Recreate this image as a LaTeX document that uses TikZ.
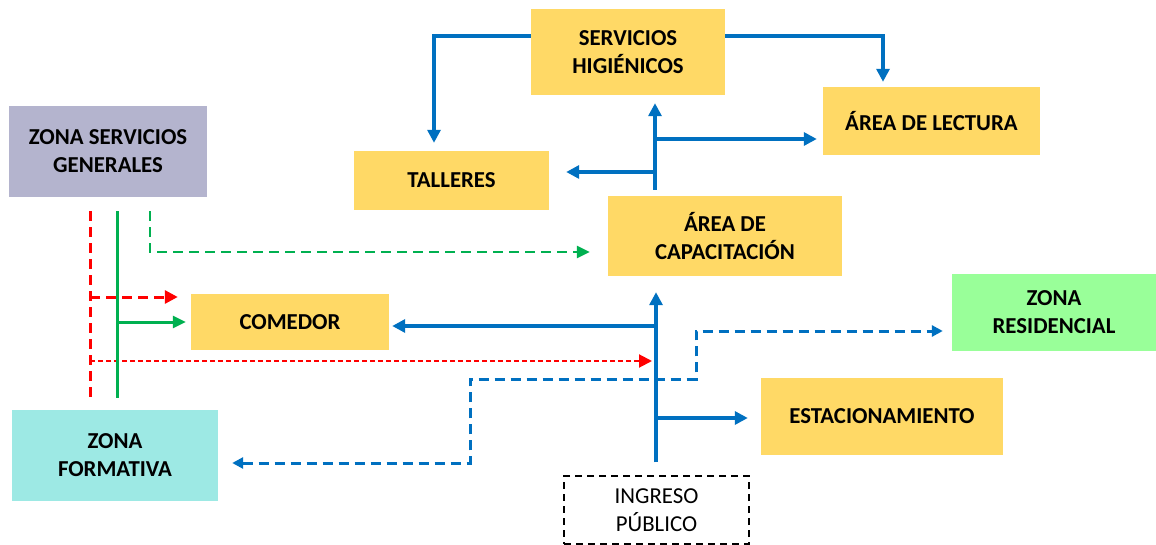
\documentclass[tikz,border=0pt]{standalone}
\usepackage{fontspec}
\setmainfont{Carlito}
\usetikzlibrary{arrows.meta}
\definecolor{cyel}{HTML}{FFD966}
\definecolor{clav}{HTML}{B4B4CE}
\definecolor{ccyan}{HTML}{9DE9E4}
\definecolor{cgrn}{HTML}{99FF99}
\definecolor{cblue}{HTML}{0070C0}
\definecolor{cred}{HTML}{FF0000}
\definecolor{cgreen}{HTML}{00B050}
\begin{document}
\begin{tikzpicture}[x=1pt,y=-1pt,
  box/.style={fill=cyel, inner sep=0pt, align=center, text depth=0pt, font=\bfseries\fontsize{22.8}{28}\selectfont},
  barrow/.style={draw=cblue, line width=3.2pt, -{Triangle[length=13pt,width=13pt]}},
  bdash/.style={draw=cblue, line width=3pt, dash pattern=on 10pt off 6pt, {Triangle[length=11pt,width=11pt]}-{Triangle[length=11pt,width=11pt]}},
  rdash/.style={draw=cred, line width=3pt, dash pattern=on 10pt off 6pt},
  rthin/.style={draw=cred, line width=2pt, dash pattern=on 5pt off 3pt},
  gline/.style={draw=cgreen, line width=3pt},
  gdash/.style={draw=cgreen, line width=2.8pt, dash pattern=on 10pt off 6pt},
  rtip/.style={-{Triangle[length=13pt,width=13pt]}},
  gtip/.style={-{Triangle[length=13pt,width=12pt]}}
]
\useasboundingbox (0,0) rectangle (1156,545);

\node[box, minimum width=194pt, minimum height=86pt] (sh) at (628,52) {SERVICIOS\\HIGIÉNICOS};
\node[box, minimum width=217pt, minimum height=68pt] (lect) at (931.5,121) {ÁREA DE LECTURA};
\node[box, minimum width=195pt, minimum height=59pt] (tall) at (451.5,180.5) {TALLERES};
\node[box, minimum width=234pt, minimum height=80pt] (cap) at (725,236) {ÁREA DE\\CAPACITACIÓN};
\node[box, fill=clav, minimum width=198pt, minimum height=91pt] (zsg) at (108,151.5) {ZONA SERVICIOS\\GENERALES};
\node[box, minimum width=198pt, minimum height=56pt] (com) at (290,322) {COMEDOR};
\node[box, fill=cgrn, minimum width=204pt, minimum height=77pt] (zr) at (1054,312.5) {ZONA\\RESIDENCIAL};
\node[box, minimum width=242pt, minimum height=77pt] (est) at (882,416.5) {ESTACIONAMIENTO};
\node[box, fill=ccyan, minimum width=206pt, minimum height=91pt] (zf) at (115,455.5) {ZONA\\FORMATIVA};
\node[draw, line width=1.5pt, dash pattern=on 7pt off 5pt, inner sep=0pt, align=center, text depth=0pt,
  minimum width=185pt, minimum height=68pt, font=\fontsize{22.8}{28}\selectfont] (ing) at (656.5,510) {INGRESO\\PÚBLICO};

% routing coordinates
\coordinate (shl) at (434,36);
\coordinate (shr) at (883,36);
\coordinate (vt) at (655,0);
\coordinate (j1) at (655,139);
\coordinate (j2) at (655,172);
\coordinate (vb) at (656,0);
\coordinate (j3) at (656,326);
\coordinate (j4) at (656,418);
\coordinate (d0) at (470,463);
\coordinate (d1) at (470,379);
\coordinate (d2) at (696,331);
\coordinate (r0) at (90,0);
\coordinate (r2) at (90,297);
\coordinate (r3) at (90,361);
\coordinate (g0) at (117,0);
\coordinate (g2) at (117,322);
\coordinate (h1) at (150,252);

% blue solid
\draw[barrow, shorten >=8pt] (sh.west |- shl) -| (tall.north -| shl);
\draw[barrow, shorten >=5pt] (sh.east |- shr) -| (lect.north -| shr);
\draw[barrow, shorten <=6pt, shorten >=8pt] (cap.north -| vt) -- (sh.south -| vt);
\draw[barrow, shorten >=6pt] (j1) -- (lect.west |- j1);
\draw[barrow, shorten >=17pt] (j2) -- (tall.east |- j2);
\draw[barrow, shorten <=13pt, shorten >=16pt] (ing.north -| vb) -- (cap.south -| vb);
\draw[barrow, shorten >=3pt] (j3) -- (com.east |- j3);
\draw[barrow, shorten >=13pt] (j4) -- (est.west |- j4);

% blue dashed
\draw[bdash, shorten <=14pt, shorten >=9pt] (zf.east |- d0) -- (d0) -- (d1) -- (d2 |- d1) -- (d2) -- (zr.west |- d2);

% red
\draw[rdash, shorten <=14pt, shorten >=12pt] (zsg.south -| r0) -- (zf.north -| r0);
\draw[rdash, rtip, shorten >=13pt] (r2) -- (com.west |- r2);
\draw[rthin, rtip, shorten >=4pt] (r3) -- (vb |- r3);

% green
\draw[gline, shorten <=14pt, shorten >=12pt] (zsg.south -| g0) -- (zf.north -| g0);
\draw[gline, gtip, shorten >=5pt] (g2) -- (com.west |- g2);
\draw[gdash, gtip, shorten <=14pt, shorten >=18pt] (zsg.south -| h1) -- (h1) -- (cap.west |- h1);
\end{tikzpicture}
\end{document}
